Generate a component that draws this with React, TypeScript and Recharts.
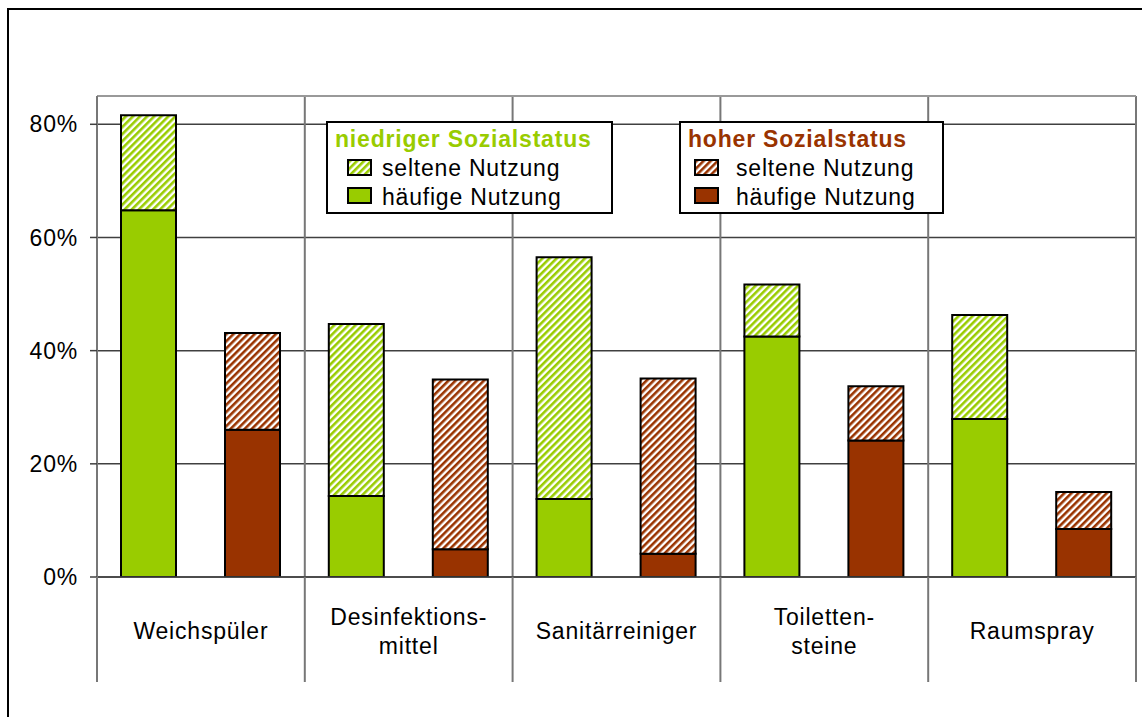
import React from 'react';
import { BarChart, Bar, XAxis, YAxis, CartesianGrid, ReferenceLine } from 'recharts';

const categories = ['Weichspüler', 'Desinfektions-\nmittel', 'Sanitärreiniger', 'Toiletten-\nsteine', 'Raumspray'];
const niedrigHaeufig = [64.8, 14.3, 13.8, 42.5, 27.9];
const niedrigSelten = [16.8, 30.4, 42.7, 9.2, 18.4];
const hochHaeufig = [26.0, 4.9, 4.1, 24.1, 8.5];
const hochSelten = [17.1, 30.0, 31.0, 9.6, 6.5];
const yTicks = [0, 20, 40, 60, 80];

const GREEN = '#99CC00';
const BROWN = '#993300';
const FONT = '"Liberation Sans", Arial, sans-serif';

const data = categories.map((c, i) => ({
  name: c,
  nh: niedrigHaeufig[i],
  ns: niedrigSelten[i],
  hh: hochHaeufig[i],
  hs: hochSelten[i],
}));

const W = 1142;
const H = 717;
const AXIS_BOTTOM_EXT = 105;

const XTick = (props: any) => {
  const { x, y, payload, index } = props;
  const half = typeof payload?.offset === 'number' && payload.offset > 0 ? payload.offset : 103.9;
  const lines = String(payload.value).split('\n');
  const baseDy = lines.length === 1 ? [62] : [48, 77];
  return (
    <g>
      <line x1={x - half} x2={x - half} y1={y} y2={y + AXIS_BOTTOM_EXT} stroke="#777" strokeWidth={2} />
      {index === categories.length - 1 && (
        <line x1={x + half} x2={x + half} y1={y} y2={y + AXIS_BOTTOM_EXT} stroke="#777" strokeWidth={2} />
      )}
      {lines.map((l, i) => (
        <text key={i} x={x} y={y + baseDy[i]} textAnchor="middle" fontFamily={FONT} fontSize={23} letterSpacing={0.8} fill="#000">
          {l}
        </text>
      ))}
    </g>
  );
};

const Legend = () => {
  const box = (
    left: number,
    width: number,
    title: string,
    color: string,
    titleX: number,
    swX: number,
    txtX: number,
    pat: string
  ) => (
    <g>
      <rect x={left} y={122} width={width} height={91} fill="#fff" stroke="#000" strokeWidth={2} />
      <text x={titleX} y={139} dominantBaseline="central" fontFamily={FONT} fontSize={23} letterSpacing={0.8} fontWeight="bold" fill={color}>
        {title}
      </text>
      <rect x={swX} y={160} width={23} height={15} fill={`url(#${pat})`} stroke="#000" strokeWidth={2} />
      <text x={txtX} y={168} dominantBaseline="central" fontFamily={FONT} fontSize={23} letterSpacing={0.8} fill="#000">
        seltene Nutzung
      </text>
      <rect x={swX} y={188} width={23} height={15} fill={color} stroke="#000" strokeWidth={2} />
      <text x={txtX} y={197} dominantBaseline="central" fontFamily={FONT} fontSize={23} letterSpacing={0.8} fill="#000">
        häufige Nutzung
      </text>
    </g>
  );
  return (
    <svg width={W} height={H} style={{ position: 'absolute', left: 0, top: 0, pointerEvents: 'none' }}>
      {box(327, 285, 'niedriger Sozialstatus', GREEN, 335, 348, 382, 'hatchGreen')}
      {box(680, 263, 'hoher Sozialstatus', BROWN, 688, 695, 736, 'hatchBrown')}
    </svg>
  );
};

export default function App() {
  return (
    <div style={{ position: 'absolute', left: 0, top: 0, width: W, height: H, background: '#fff', overflow: 'hidden' }}>
      <svg width={0} height={0} style={{ position: 'absolute' }}>
        <defs>
          <pattern id="hatchGreen" patternUnits="userSpaceOnUse" width={5} height={5} patternTransform="rotate(45)">
            <rect x={0} y={0} width={5} height={5} fill="#fff" />
            <rect x={0} y={0} width={2.6} height={5} fill={GREEN} />
          </pattern>
          <pattern id="hatchBrown" patternUnits="userSpaceOnUse" width={5} height={5} patternTransform="rotate(45)">
            <rect x={0} y={0} width={5} height={5} fill="#fff" />
            <rect x={0} y={0} width={2.6} height={5} fill={BROWN} />
          </pattern>
        </defs>
      </svg>
      <div style={{ position: 'absolute', left: 7, top: 8, width: W, height: H, borderTop: '2px solid #000', borderLeft: '2px solid #000' }} />
      <div style={{ position: 'absolute', left: 0, top: 0 }}>
        <BarChart
          width={W}
          height={H}
          data={data}
          margin={{ top: 96, right: 6, left: 0, bottom: 40 }}
          barSize={55}
          barGap={49}
        >
          <CartesianGrid horizontal={true} vertical={false} stroke="#404040" strokeWidth={1.5} />
          <CartesianGrid
            horizontal={false}
            vertical={true}
            stroke="#777"
            strokeWidth={2}
            verticalCoordinatesGenerator={({ offset }: any) =>
              [0, 1, 2, 3, 4, 5].map((i) => offset.left + (offset.width * i) / categories.length)
            }
          />
          <ReferenceLine y={85} stroke="#999" strokeWidth={2} ifOverflow="extendDomain" />
          <XAxis
            dataKey="name"
            interval={0}
            tickLine={false}
            tickSize={0}
            tickMargin={0}
            height={100}
            axisLine={{ stroke: '#404040', strokeWidth: 1.5 }}
            tick={<XTick />}
          />
          <YAxis
            width={97}
            domain={[0, 85]}
            ticks={yTicks}
            allowDataOverflow
            tickFormatter={(v: number) => `${v}%`}
            tickSize={7}
            tickMargin={12}
            tickLine={{ stroke: '#404040', strokeWidth: 1.5 }}
            axisLine={{ stroke: '#777', strokeWidth: 2 }}
            tick={{ fontFamily: FONT, fontSize: 23, letterSpacing: 0.8, fill: '#000' }}
          />
          <Bar dataKey="nh" stackId="g" fill={GREEN} stroke="#000" strokeWidth={2} isAnimationActive={false} />
          <Bar dataKey="ns" stackId="g" fill="url(#hatchGreen)" stroke="#000" strokeWidth={2} isAnimationActive={false} />
          <Bar dataKey="hh" stackId="b" fill={BROWN} stroke="#000" strokeWidth={2} isAnimationActive={false} />
          <Bar dataKey="hs" stackId="b" fill="url(#hatchBrown)" stroke="#000" strokeWidth={2} isAnimationActive={false} />
        </BarChart>
      </div>
      <Legend />
    </div>
  );
}
